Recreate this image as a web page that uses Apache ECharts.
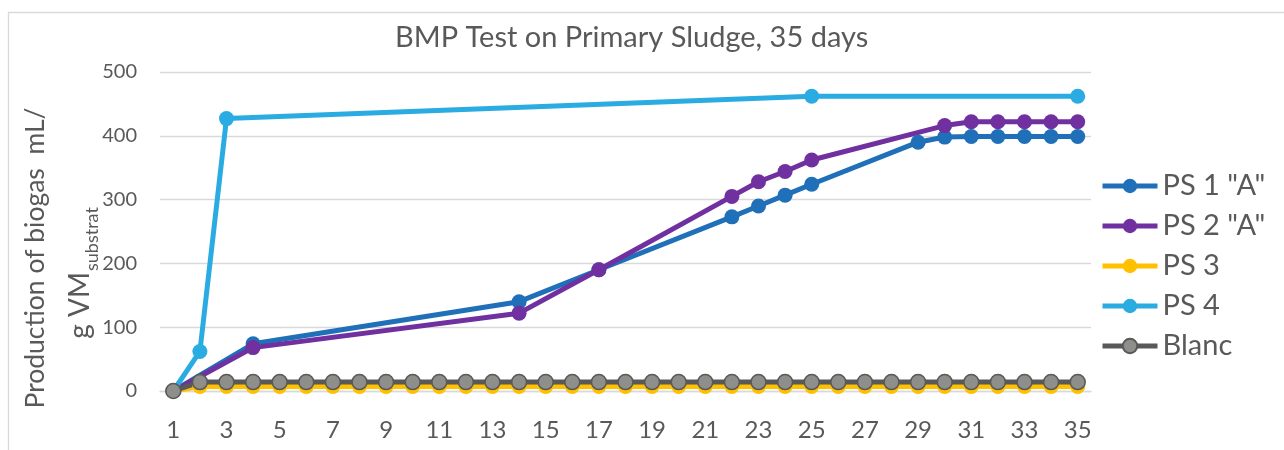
<!DOCTYPE html>
<html>
<head>
<meta charset="utf-8">
<script src="https://cdn.jsdelivr.net/npm/echarts@6/dist/echarts.min.js"></script>
<style>
  html, body { margin: 0; padding: 0; background: #ffffff; }
  #chart { width: 1284px; height: 450px; }
</style>
</head>
<body>
<div id="chart"></div>
<script>
// Day of the test (category axis)
const days = ['1','2','3','4','5','6','7','8','9','10','11','12','13','14','15','16','17','18',
  '19','20','21','22','23','24','25','26','27','28','29','30','31','32','33','34','35'];

// Cumulative biogas production, mL / g VM substrat (null = no reading that day)
const ps1 = [0, null, null, 74, null, null, null, null, null, null, null, null, null, 140,
  null, null, 190, null, null, null, null, 273, 290, 307, 324, null, null, null, 390, 398,
  399, 399, 399, 399, 399];
const ps2 = [0, null, null, 68, null, null, null, null, null, null, null, null, null, 122,
  null, null, 190, null, null, null, null, 305, 328, 344, 362, null, null, null, null, 416,
  422, 422, 422, 422, 422];
const ps3 = [0, 7, 7, 7, 7, 7, 7, 7, 7, 7, 7, 7, 7, 7, 7, 7, 7, 7, 7, 7, 7, 7, 7, 7, 7, 7,
  7, 7, 7, 7, 7, 7, 7, 7, 7];
const ps4 = [0, 62, 427, null, null, null, null, null, null, null, null, null, null, null,
  null, null, null, null, null, null, null, null, null, null, 462, null, null, null, null,
  null, null, null, null, null, 462];
const blanc = [0, 14, 14, 14, 14, 14, 14, 14, 14, 14, 14, 14, 14, 14, 14, 14, 14, 14, 14, 14,
  14, 14, 14, 14, 14, 14, 14, 14, 14, 14, 14, 14, 14, 14, 14];

const seriesNames = ['PS 1 "A"', 'PS 2 "A"', 'PS 3', 'PS 4', 'Blanc'];
const yTicks = { min: 0, max: 500, interval: 100 };

const FONT = 'Lato, "Open Sans", sans-serif';
const TEXT = '#595959';
const GRID = '#D9D9D9';

function lineSeries(name, data, color, markerFill, markerBorder) {
  return {
    name: name,
    type: 'line',
    data: data,
    connectNulls: true,
    symbol: 'circle',
    symbolSize: 15,
    showAllSymbol: true,
    lineStyle: { color: color, width: 5 },
    itemStyle: {
      color: markerFill || color,
      borderColor: markerBorder || markerFill || color,
      borderWidth: markerBorder ? 1.6 : 0
    },
    emphasis: { disabled: true },
    animation: false
  };
}

const chart = echarts.init(document.getElementById('chart'), null, { renderer: 'canvas' });

chart.setOption({
  backgroundColor: '#ffffff',
  animation: false,
  title: {
    text: 'BMP Test on Primary Sludge, 35 days',
    left: 390,
    top: 18,
    textStyle: { fontFamily: FONT, fontSize: 29, fontWeight: 'normal', color: TEXT }
  },
  legend: {
    orient: 'vertical',
    left: 1095,
    top: 166,
    itemWidth: 55,
    itemHeight: 18,
    itemGap: 10,
    data: seriesNames,
    lineStyle: { width: 5 },
    textStyle: { fontFamily: FONT, fontSize: 29, color: TEXT, lineHeight: 30 }
  },
  grid: { left: 160, right: 193, top: 72, bottom: 59, containLabel: false },
  xAxis: {
    type: 'category',
    data: days,
    boundaryGap: true,
    axisLine: { lineStyle: { color: GRID, width: 1.3 } },
    axisTick: { show: false },
    axisLabel: {
      interval: 1,
      margin: 27,
      fontFamily: FONT,
      fontSize: 24,
      color: TEXT
    },
    splitLine: { show: false }
  },
  yAxis: {
    type: 'value',
    min: yTicks.min,
    max: yTicks.max,
    interval: yTicks.interval,
    axisLine: { show: false },
    axisTick: { show: false },
    axisLabel: { margin: 23, fontFamily: FONT, fontSize: 20, color: TEXT },
    splitLine: { lineStyle: { color: GRID, width: 1.3 } }
  },
  graphic: [
    {
      type: 'rect',
      z: -10,
      silent: true,
      shape: { x: 8.5, y: 12.5, width: 1400, height: 600 },
      style: { fill: 'none', stroke: GRID, lineWidth: 1.3 }
    },
    {
      type: 'text',
      silent: true,
      x: 35, y: 258,
      rotation: Math.PI / 2,
      style: {
        text: 'Production of biogas  mL/',
        fontFamily: FONT, fontSize: 26.5, fill: TEXT,
        textAlign: 'center', textVerticalAlign: 'middle'
      }
    },
    {
      type: 'text',
      silent: true,
      x: 80, y: 272,
      rotation: Math.PI / 2,
      style: {
        text: 'g VM',
        fontFamily: FONT, fontSize: 28, fill: TEXT,
        textAlign: 'right', textVerticalAlign: 'middle'
      }
    },
    {
      type: 'text',
      silent: true,
      x: 92, y: 271,
      rotation: Math.PI / 2,
      style: {
        text: 'substrat',
        fontFamily: FONT, fontSize: 18, fill: TEXT,
        textAlign: 'left', textVerticalAlign: 'middle'
      }
    }
  ],
  series: [
    lineSeries(seriesNames[0], ps1, '#1F70B8'),
    lineSeries(seriesNames[1], ps2, '#7030A0'),
    lineSeries(seriesNames[2], ps3, '#FFC000'),
    lineSeries(seriesNames[3], ps4, '#2AACE2'),
    lineSeries(seriesNames[4], blanc, '#595959', '#8E8E8B', '#595959')
  ]
});
</script>
</body>
</html>
